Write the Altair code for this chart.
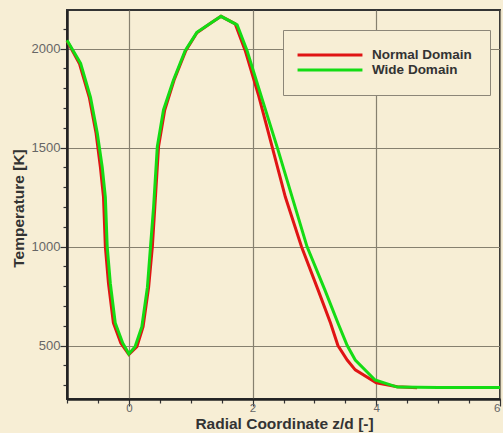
import altair as alt
import pandas as pd

# Temperature profiles along the radial coordinate for the two domain sizes
normal_x = [-1.0, -0.8, -0.64, -0.53, -0.46, -0.41, -0.38, -0.33, -0.25, -0.13, 0.0,
            0.13, 0.23, 0.32, 0.38, 0.42, 0.48, 0.58, 0.73, 0.92, 1.1, 1.32, 1.49,
            1.72, 1.88, 2.1, 2.32, 2.53, 2.79, 3.06, 3.26, 3.38, 3.53, 3.66, 4.0,
            4.34, 4.66]
normal_t = [2040, 1925, 1754, 1572, 1400, 1250, 1000, 815, 614, 513, 455,
            494, 595, 795, 1000, 1200, 1505, 1690, 1840, 1990, 2080, 2128, 2163,
            2125, 1991, 1760, 1500, 1250, 1000, 780, 614, 500, 427, 377, 312,
            292, 287]

wide_x = [-1.0, -0.78, -0.62, -0.51, -0.43, -0.38, -0.35, -0.3, -0.22, -0.1, 0.0,
          0.1, 0.21, 0.3, 0.35, 0.4, 0.46, 0.56, 0.72, 0.91, 1.1, 1.32, 1.49,
          1.75, 1.91, 2.15, 2.4, 2.64, 2.88, 3.17, 3.38, 3.53, 3.66, 3.98, 4.34,
          5.0, 6.0]
wide_t = [2042, 1925, 1754, 1572, 1400, 1250, 1000, 815, 614, 513, 458,
          494, 595, 795, 1000, 1200, 1505, 1690, 1840, 1990, 2082, 2128, 2163,
          2120, 1991, 1750, 1500, 1250, 1000, 780, 614, 500, 427, 326, 290,
          288, 288]

series_names = ["Normal Domain", "Wide Domain"]
series_colors = ["#e01414", "#14dc14"]

x_ticks = [v / 2 for v in range(-2, 13)]
y_ticks = list(range(300, 2200, 100))

df = pd.concat([
    pd.DataFrame({"z": normal_x, "T": normal_t, "case": series_names[0], "k": range(len(normal_x))}),
    pd.DataFrame({"z": wide_x, "T": wide_t, "case": series_names[1], "k": range(len(wide_x))}),
])

bg = "#f7eed5"
font = "Liberation Sans"

chart = alt.Chart(df).mark_line(strokeWidth=3).encode(
    x=alt.X("z:Q",
            scale=alt.Scale(domain=[-1, 6], nice=False, zero=False),
            axis=alt.Axis(
                title="Radial Coordinate z/d [-]",
                values=x_ticks,
                labelExpr="datum.value % 2 === 0 ? datum.label : ''",
                tickSize={"expr": "datum.value % 2 === 0 ? 7 : 4"},
                gridOpacity={"expr": "datum.value % 2 === 0 ? 1 : 0"},
                labelPadding=-4,
                labelFontSize=11.5,
                titleX=217,
                titleY=29,
                titleBaseline="alphabetic",
                titleAnchor="middle",
            )),
    y=alt.Y("T:Q",
            scale=alt.Scale(domain=[230, 2195], nice=False, zero=False),
            axis=alt.Axis(
                title="Temperature [K]",
                values=y_ticks,
                labelExpr="datum.value % 500 === 0 ? datum.label : ''",
                tickSize={"expr": "datum.value % 500 === 0 ? 7 : 4"},
                gridOpacity={"expr": "datum.value % 500 === 0 ? 1 : 0"},
                labelPadding=0,
                labelFontSize=13,
                titleX=-49,
                titleY=198,
                titleAngle=270,
                titleAlign="center",
                titleBaseline="middle",
            )),
    color=alt.Color("case:N",
                    scale=alt.Scale(domain=series_names, range=series_colors),
                    legend=alt.Legend(title=None)),
    order="k:Q",
).properties(
    width=433,
    height=389,
    background=bg,
    autosize=alt.AutoSizeParams(type="none"),
    padding={"left": 67, "top": 10, "right": 3, "bottom": 34},
).configure_view(
    stroke="#333333",
    strokeWidth=2,
    fill=bg,
).configure_axis(
    domainColor="#222222",
    domainWidth=2.5,
    tickColor="#333333",
    tickWidth=1.2,
    gridColor="#86806f",
    gridWidth=1.2,
    labelFont=font,
    labelColor="#666666",
    titleFont=font,
    titleFontSize=15.5,
    titleFontWeight="bold",
    titleColor="#333333",
    format="d",
).configure_legend(
    orient="none",
    legendX=216,
    legendY=20,
    fillColor=bg,
    strokeColor="#8c8678",
    padding=18,
    symbolType="M-6,0H6",
    symbolSize=117,
    symbolStrokeWidth=3,
    symbolOffset=22,
    labelOffset=35,
    labelFont=font,
    labelFontSize=13.5,
    labelFontWeight="bold",
    labelColor="#333333",
    rowPadding=1,
)

chart.save("out.html", embed_options={"renderer": "svg", "actions": False})
